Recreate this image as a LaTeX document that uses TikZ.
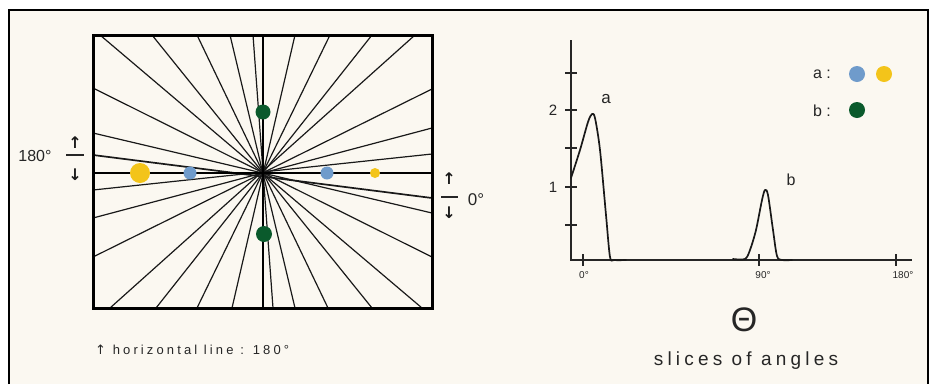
\documentclass[tikz,border=0pt]{standalone}
\usepackage{fontspec}
\setmainfont{Liberation Sans}
\newfontfamily\symfont{DejaVu Sans}
\definecolor{cream}{HTML}{FBF8F1}
\definecolor{dotblue}{HTML}{6F9BCB}
\definecolor{dotyellow}{HTML}{F3C41A}
\definecolor{dotgreen}{HTML}{0A5A2C}
\newcommand{\fsz}[1]{\fontsize{#1}{#1}\selectfont}
\begin{document}
\begin{tikzpicture}[x=1pt,y=-1pt,
  radial/.style={line width=1.2pt, black!90},
  mainaxis/.style={line width=2.4pt},
  boxline/.style={line width=3pt},
  axisline/.style={line width=1.8pt, black!85},
  tickline/.style={line width=1.3pt, black!85},
  curve/.style={line width=1.7pt, black!90, line join=round, line cap=round},
  txt/.style={inner sep=0pt, text=black!85},
  arr/.style={inner sep=0pt, text=black!90, font=\symfont\bfseries\fsz{16}},
  dot/.style={circle, inner sep=0pt, draw=none}]
\useasboundingbox (0,0) rectangle (930,384);
\fill[white] (0,0) rectangle (930,384);
\fill[cream] (9,10) rectangle (928,384);
\draw[line width=2pt] (9,384) -- (9,10) -- (928,10) -- (928,384);

% radial lines
\foreach \a/\b in {100/422,152/372,197/328,230/295,253/273,295/232,330/197,372/156,415/110}
  \draw[radial] (\a,35) -- (\b,308);
\foreach \a/\b in {88/257,133/213,190/154,218/128,257/89}
  \draw[radial] (93,\a) -- (432,\b);
\draw[radial, line width=1.7pt] (93,155) -- (432,198);
\draw[mainaxis] (263,35) -- (263,308);
\draw[mainaxis] (93,173) -- (432,173);
\draw[boxline] (93,35) rectangle (432,308);

% dots
\node[dot, fill=dotyellow, minimum size=20pt] (y1) at (140,173) {};
\node[dot, fill=dotblue, minimum size=13pt] (b1) at (190,173) {};
\node[dot, fill=dotblue, minimum size=13pt] (b2) at (327,173) {};
\node[dot, fill=dotyellow, minimum size=10pt] (y2) at (375,173) {};
\node[dot, fill=dotgreen, minimum size=15pt] (g1) at (263,112) {};
\node[dot, fill=dotgreen, minimum size=16pt] (g2) at (264,234) {};

% side labels
\node[txt, font=\fsz{16}] (l180) at (35,156) {180°};
\node[arr] (lup) at (75,143) {↑};
\draw[line width=1.6pt, black!85] (66,155) -- (84,155);
\node[arr] (ldn) at (75,175) {↓};
\node[arr] (rup) at (449,179) {↑};
\draw[line width=1.6pt, black!85] (441,197) -- (458,197);
\node[arr] (rdn) at (449,213) {↓};
\node[txt, font=\fsz{17}] (r0) at (476,200) {0°};

% caption
\node[txt, font=\fsz{13}\addfontfeature{LetterSpace=24}, anchor=west] (cap) at (95,350) {{\symfont↑} horizontal line : 180°};

% graph
\coordinate (ytop) at (571,40);
\coordinate (orig) at (571,260);
\coordinate (xend) at (912,260);
\draw[axisline] (ytop) -- (orig) -- (xend);
\foreach \y in {73,110,148,187,225}
  \draw[tickline] (565,\y) -- (577,\y);
\foreach \x in {583,759,896}
  \draw[tickline] (\x,254) -- (\x,266);
\node[txt, font=\fsz{15}] (y2l) at (553,110) {2};
\node[txt, font=\fsz{15}] (y1l) at (553,187) {1};
\node[txt, font=\fsz{10}] (x0) at (584,275) {0°};
\node[txt, font=\fsz{10}] (x90) at (763,275) {90°};
\node[txt, font=\fsz{10}] (x180) at (903,275) {180°};

\draw[curve] plot[smooth, tension=0.5] coordinates {(571,178) (580,150) (588,122) (592,114) (595,118) (600,150) (606,215) (610,257) (614,260) (626,260)};
\draw[curve] plot[smooth, tension=0.5] coordinates {(733,259) (745,259) (750,250) (756,230) (762,200) (765,190) (768,195) (773,230) (777,256) (782,260) (792,260)};
\node[txt, font=\fsz{17}] (pa) at (606,99) {a};
\node[txt, font=\fsz{16}] (pb) at (791,180) {b};

% legend
\node[txt, font=\fsz{16}] (la) at (822,74) {a :};
\node[dot, fill=dotblue, minimum size=16pt] (lb1) at (857,74) {};
\node[dot, fill=dotyellow, minimum size=16pt] (ly1) at (884,74) {};
\node[txt, font=\fsz{16}] (lb) at (822,111) {b :};
\node[dot, fill=dotgreen, minimum size=16pt] (lg1) at (857,110) {};

% theta
\node[txt, font=\fsz{34}] (theta) at (744,320) {Θ};
\node[txt, font=\fsz{19}\addfontfeature{LetterSpace=22}] (slices) at (746,361) {slices of angles};
\end{tikzpicture}
\end{document}
